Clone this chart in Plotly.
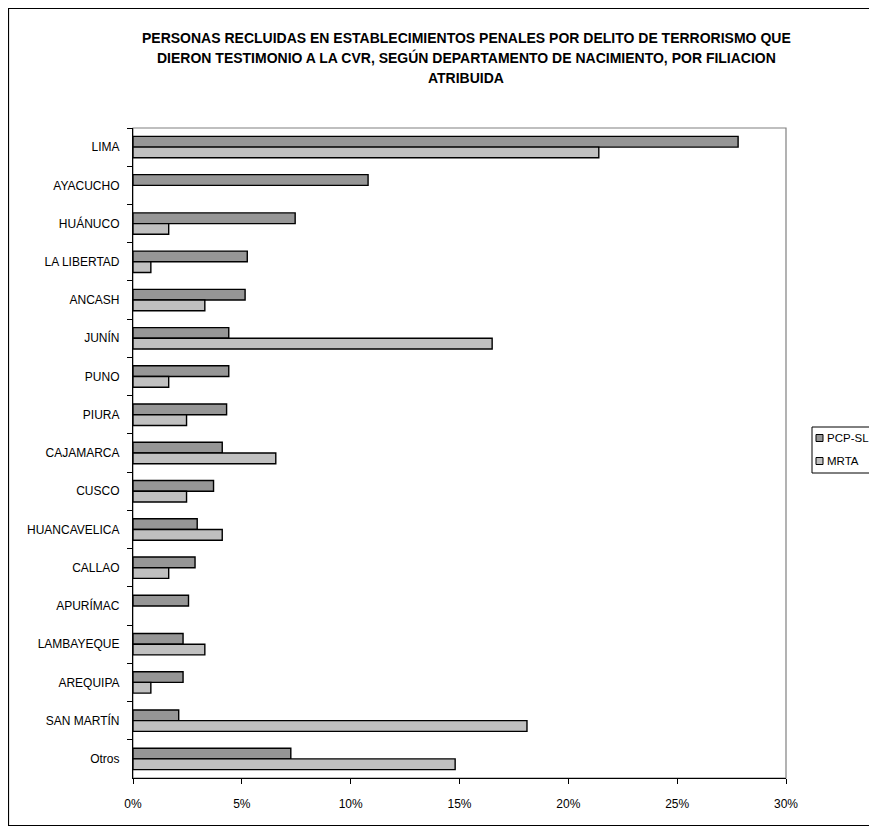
import plotly.graph_objects as go

categories = ["LIMA", "AYACUCHO", "HUÁNUCO", "LA LIBERTAD", "ANCASH", "JUNÍN", "PUNO",
              "PIURA", "CAJAMARCA", "CUSCO", "HUANCAVELICA", "CALLAO", "APURÍMAC",
              "LAMBAYEQUE", "AREQUIPA", "SAN MARTÍN", "Otros"]
pcp_sl = [27.8, 10.8, 7.45, 5.25, 5.15, 4.4, 4.4, 4.3, 4.1, 3.7, 2.95, 2.85, 2.55,
          2.3, 2.3, 2.1, 7.25]
mrta = [21.4, 0, 1.64, 0.82, 3.3, 16.5, 1.64, 2.46, 6.56, 2.46, 4.1, 1.64, 0,
        3.3, 0.82, 18.1, 14.8]
series_names = ["PCP-SL", "MRTA"]
series_colors = ["#969696", "#C0C0C0"]
x_ticks = [0, 5, 10, 15, 20, 25, 30]
x_tick_labels = ["0%", "5%", "10%", "15%", "20%", "25%", "30%"]

title_lines = ["PERSONAS RECLUIDAS EN ESTABLECIMIENTOS PENALES POR DELITO DE TERRORISMO QUE",
               "DIERON TESTIMONIO A LA CVR, SEGÚN DEPARTAMENTO DE NACIMIENTO, POR FILIACION",
               "ATRIBUIDA"]

FONT = "Liberation Sans, Arial, sans-serif"

OFF = 8  # page body margin
W, H = 869, 818
L, T = 133 - OFF, 128 - OFF
R = W - (786 - OFF)
B = H - (778 - OFF)
pw, ph = W - L - R, H - T - B


def px_x(x):
    return (x - OFF - L) / pw


def px_y(y):
    return (H - B - (y - OFF)) / ph


def nz(v):
    return [None if a == 0 else a for a in v]


fig = go.Figure()
for name, vals, col in zip(series_names, [pcp_sl, mrta], series_colors):
    fig.add_trace(go.Bar(y=categories, x=nz(vals), name=name, orientation="h",
                         showlegend=False,
                         marker=dict(color=col, line=dict(color="#000000", width=1.4))))

shapes = [
    dict(type="rect", xref="paper", yref="paper", x0=px_x(8.5), x1=px_x(900),
         y0=px_y(825.5), y1=px_y(8.5), line=dict(color="#000000", width=1.2),
         fillcolor="rgba(0,0,0,0)", layer="below"),
    dict(type="rect", xref="paper", yref="paper", x0=0, x1=1, y0=0, y1=1,
         line=dict(color="#808080", width=1.2), fillcolor="rgba(0,0,0,0)", layer="below"),
    dict(type="rect", xref="paper", yref="paper", x0=px_x(812), x1=px_x(900),
         y0=px_y(473), y1=px_y(427), line=dict(color="#000000", width=1),
         fillcolor="#FFFFFF", layer="below"),
]

annotations = []
for i, line in enumerate(title_lines):
    annotations.append(dict(text="<b>%s</b>" % line, xref="paper", yref="paper",
                            x=px_x(466), y=px_y(38 + 20 * i), xanchor="center",
                            yanchor="middle", showarrow=False,
                            font=dict(family=FONT, size=14, color="#000000")))

# legend (custom, to match the reference's compact layout)
for i, (name, col) in enumerate(zip(series_names, series_colors)):
    yc = 438 + 23 * i
    shapes.append(dict(type="rect", xref="paper", yref="paper",
                       x0=px_x(816), x1=px_x(823), y0=px_y(yc + 3.5), y1=px_y(yc - 3.5),
                       line=dict(color="#000000", width=1), fillcolor=col))
    annotations.append(dict(text=name, xref="paper", yref="paper", x=px_x(825),
                            y=px_y(yc), xanchor="left", yanchor="middle", showarrow=False,
                            font=dict(family=FONT, size=11.5, color="#000000")))

fig.update_layout(
    width=W, height=H,
    margin=dict(l=L, r=R, t=T, b=B, autoexpand=False),
    paper_bgcolor="#FFFFFF", plot_bgcolor="#FFFFFF",
    barmode="group", bargap=0.44, bargroupgap=0,
    font=dict(family=FONT, size=12, color="#000000"),
    showlegend=False,
    shapes=shapes,
    annotations=annotations,
    xaxis=dict(range=[0, 30], tickvals=x_ticks, ticktext=x_tick_labels,
               showgrid=False, zeroline=False, showline=True, linecolor="#000000",
               linewidth=1.2, ticks="outside", ticklen=5, tickcolor="#000000",
               ticklabelstandoff=9, tickfont=dict(family=FONT, size=12)),
    yaxis=dict(autorange="reversed", showgrid=False, zeroline=False, showline=True,
               linecolor="#000000", linewidth=1.2, ticks="outside", ticklen=5,
               tickcolor="#000000", tickson="boundaries", ticklabelstandoff=10,
               tickfont=dict(family=FONT, size=12)),
)

fig.write_html("out.html")
